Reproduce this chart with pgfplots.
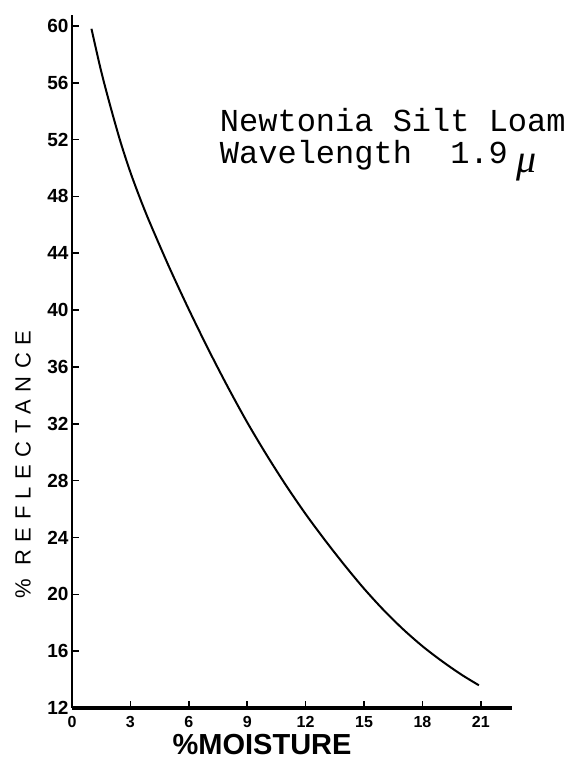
\documentclass[border=0pt]{standalone}
\usepackage{pgfplots}
\pgfplotsset{compat=1.18}
\usepackage{fontspec}
\setmainfont{Liberation Sans}
\newfontfamily\tw{Liberation Mono}
\newfontfamily\hand{Liberation Serif}
\newfontfamily\spaced[LetterSpace=34]{Liberation Sans}
\begin{document}
\begin{tikzpicture}
\begin{axis}[name=ax, scale only axis, width=440pt, height=693pt,
  xmin=0, xmax=22.6, ymin=12, ymax=60.77,
  axis lines=left,
  x axis line style={-, line width=3.5pt},
  y axis line style={-, line width=2.5pt},
  xtick={0,3,...,21}, ytick={12,16,...,60},
  tick style={black, line width=1.6pt}, major tick length=7pt,
  tick align=inside,
  /pgf/number format/assume math mode=true,
  xticklabel style={font=\fontsize{16}{16}\selectfont\bfseries, yshift=-5pt},
  yticklabel style={font=\fontsize{19}{19}\selectfont\bfseries},
  xlabel={\%MOISTURE},
  xlabel style={at={(axis description cs:0.432,-0.052)}, anchor=center, inner sep=0pt, font=\fontsize{29}{29}\selectfont\bfseries},
  ylabel={\spaced\% REFLECTANCE},
  ylabel style={at={(axis description cs:-0.111,0.351)}, anchor=center, font=\fontsize{22}{22}\selectfont},
  clip=false,
]
\addplot[smooth, black, line width=2pt] coordinates {
 (1,59.8) (1.5,56.8) (2,54.2) (2.5,51.8) (3,49.7) (3.5,47.85) (4,46.15)
 (5,43.0) (6,40.05) (7,37.25) (8,34.6) (9,32.1) (10,29.8) (11,27.65)
 (12,25.65) (13,23.8) (14,22.05) (15,20.4) (16,18.9) (17,17.55)
 (18,16.35) (19,15.3) (20,14.35) (20.9,13.6)
};
\node[anchor=base west, align=left, font=\tw\fontsize{32}{32}\selectfont, inner sep=0pt]
  at (axis cs:7.59,50.35) {Newtonia Silt Loam\\Wavelength\hspace{1.2em}1.9\hspace{0.25em}\raisebox{-9pt}{\hand\itshape\fontsize{40}{40}\selectfont μ}};
\end{axis}
\pgfresetboundingbox
\path ([shift={(-72pt,-52pt)}]ax.south west) rectangle ([shift={(58pt,15pt)}]ax.north east);
\end{tikzpicture}
\end{document}
